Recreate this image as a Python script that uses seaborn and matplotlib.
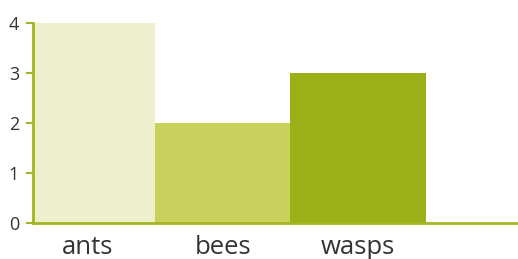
import matplotlib
matplotlib.use("Agg")
import matplotlib.pyplot as plt
import seaborn as sns
import pandas as pd

categories = ["ants", "bees", "wasps"]
values = [4, 2, 3]
colors = ["#eef0cd", "#c9d05c", "#9baf16"]
yticks = [0, 1, 2, 3, 4]

sns.set_style("white")
plt.rcParams['font.family'] = ['Open Sans', 'DejaVu Sans']

df = pd.DataFrame({"cat": categories, "val": values})
fig = plt.figure(figsize=(5.18, 2.59), dpi=100)
ax = fig.add_axes([33/518, 1 - 223/259, 1 - 33/518, 200/259])
sns.barplot(data=df, x="cat", y="val", hue="cat", palette=colors, width=1.0,
            legend=False, ax=ax, linewidth=0, saturation=1)

axis_col = "#a3b522"
ax.set_xlim(-0.4, 3.18)
ax.set_ylim(0, 4)
ax.set_yticks(yticks)
ax.set_yticklabels([str(v) for v in yticks], fontsize=13, color="#333333")
ax.set_xticks(range(len(categories)))
ax.set_xticklabels(categories, fontsize=18.5, color="#333333")
ax.set_xticks([0.5, 1.5, 2.5], minor=True)
ax.tick_params(axis="x", which="major", length=0, pad=9)
ax.tick_params(axis="x", which="minor", length=4, width=1.5, color=axis_col, direction="out")
ax.tick_params(axis="y", length=5, width=1.5, color=axis_col, pad=5, left=True)
ax.set_xlabel("")
ax.set_ylabel("")
for s in ["top", "right"]:
    ax.spines[s].set_visible(False)
for s in ["left", "bottom"]:
    ax.spines[s].set_color(axis_col)
    ax.spines[s].set_linewidth(2)
ax.set_axisbelow(False)
fig.savefig("out.png", dpi=100)
